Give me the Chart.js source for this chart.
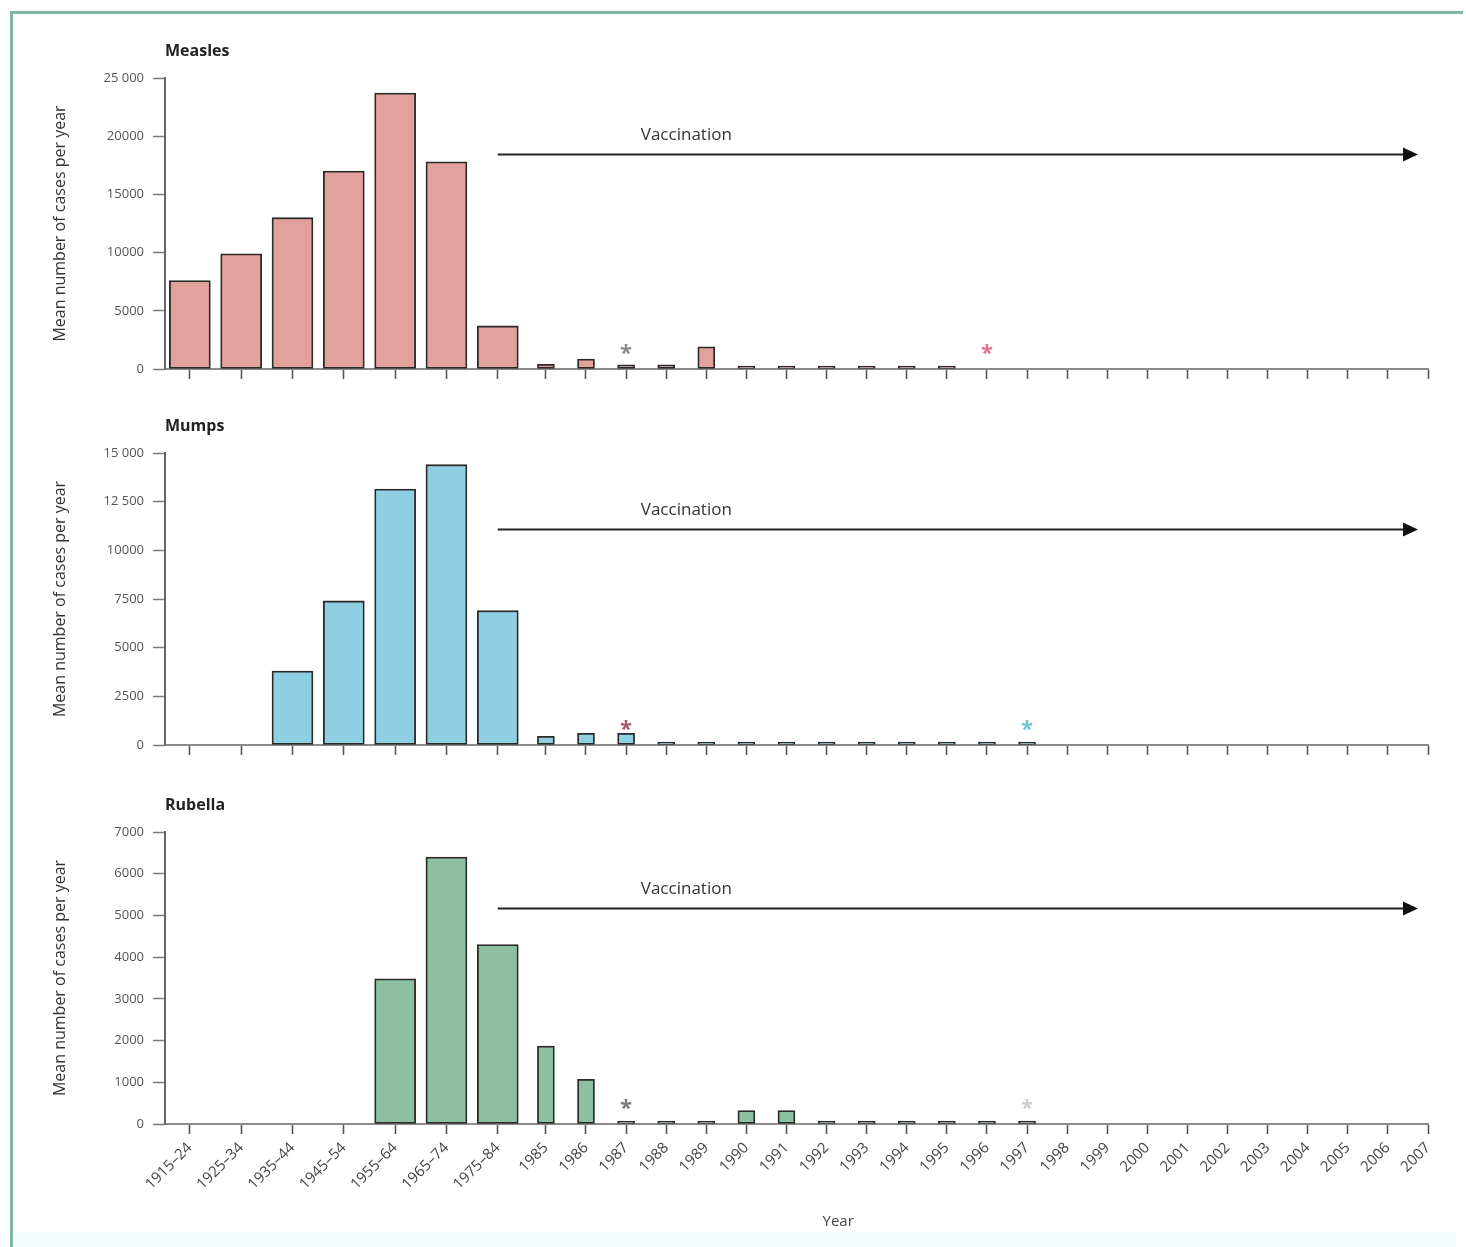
<!DOCTYPE html>
<html>
<head>
<meta charset="utf-8">
<title>Measles, mumps and rubella cases per year</title>
<script src="https://cdn.jsdelivr.net/npm/chart.js@4/dist/chart.umd.min.js"></script>
<style>
  html, body { margin: 0; padding: 0; background: #fff; }
  #page { position: relative; width: 1466px; height: 1247px; overflow: hidden; background: #fff; }
  #frame { position: absolute; left: 10px; top: 11px; right: 3px; bottom: -5px;
           border-top: 3px solid #80b6a8; border-left: 3px solid #80b6a8; }
  #foot { position: absolute; left: 13px; right: 10px; bottom: 0; height: 14px; background: #f3fbfc; }
  canvas { position: absolute; left: 0; }
</style>
</head>
<body>
<div id="page">
  <div id="foot"></div>
  <div id="frame"></div>
  <canvas id="measles" width="1466" height="374" style="top:20px"></canvas>
  <canvas id="mumps" width="1466" height="370" style="top:400px"></canvas>
  <canvas id="rubella" width="1466" height="467" style="top:780px"></canvas>
</div>
<script>
// ---- categories -------------------------------------------------------
const decadeLabels = ['1915–24', '1925–34', '1935–44', '1945–54', '1955–64', '1965–74', '1975–84'];
const yearLabels = ['1985', '1986', '1987', '1988', '1989', '1990', '1991', '1992', '1993', '1994',
  '1995', '1996', '1997', '1998', '1999', '2000', '2001', '2002', '2003', '2004', '2005', '2006', '2007'];

// ---- mean number of cases per year (null = no bar) ---------------------
const measlesDecades = [7600, 9900, 13000, 17000, 23700, 17800, 3700];
const measlesYears = [400, 850, 350, 350, 1900, 200, 200, 200, 200, 200, 200,
  null, null, null, null, null, null, null, null, null, null, null, null];

const mumpsDecades = [null, null, 3800, 7400, 13150, 14400, 6900];
const mumpsYears = [450, 600, 600, 150, 90, 90, 90, 90, 90, 90, 90, 90, 90,
  null, null, null, null, null, null, null, null, null, null];

const rubellaDecades = [null, null, null, null, 3480, 6400, 4300];
const rubellaYears = [1870, 1070, 50, 50, 50, 320, 320, 50, 50, 50, 50, 50, 50,
  null, null, null, null, null, null, null, null, null, null];

// ---- y-axis ticks -----------------------------------------------------
const measlesTickValues = [0, 5000, 10000, 15000, 20000, 25000];
const measlesTickLabels = ['0', '5000', '10000', '15000', '20000', '25 000'];
const mumpsTickValues = [0, 2500, 5000, 7500, 10000, 12500, 15000];
const mumpsTickLabels = ['0', '2500', '5000', '7500', '10000', '12 500', '15 000'];
const rubellaTickValues = [0, 1000, 2000, 3000, 4000, 5000, 6000, 7000];
const rubellaTickLabels = ['0', '1000', '2000', '3000', '4000', '5000', '6000', '7000'];

// ---- asterisk markers -------------------------------------------------
const measlesStars = [{ at: '1987', color: '#8a8a8a' }, { at: '1996', color: '#e0708c' }];
const mumpsStars = [{ at: '1987', color: '#a8586a' }, { at: '1997', color: '#6cc6d2' }];
const rubellaStars = [{ at: '1987', color: '#7a7a7a' }, { at: '1997', color: '#cfcfcf' }];

// ---- x layout: ten-year groups are wider than single years --------------
const DECADE_STEP = 1.28;
const YEAR_GAP = 1.2;
const decadePos = decadeLabels.map((_, i) => i * DECADE_STEP);
const yearStart = (decadeLabels.length - 1) * DECADE_STEP + YEAR_GAP;
const yearPos = yearLabels.map((_, k) => yearStart + k);
const allPos = decadePos.concat(yearPos);
const allLabels = decadeLabels.concat(yearLabels);
const X_MIN = -0.62;
const X_MAX = yearPos[yearPos.length - 1];
const posOf = label => allPos[allLabels.indexOf(label)];

const FONT = '"Open Sans", "Noto Sans", sans-serif';
Chart.defaults.font.family = FONT;
Chart.defaults.color = '#444';

// Panel title, vaccination arrow, asterisks and the shared "Year" label.
const decor = {
  id: 'decor',
  afterDatasetsDraw(chart, args, o) {
    const { ctx, chartArea: a, scales: { x } } = chart;
    ctx.save();
    ctx.textBaseline = 'middle';
    ctx.textAlign = 'left';
    ctx.fillStyle = '#222';
    ctx.font = 'bold 16px ' + FONT;
    ctx.fillText(o.title, a.left, a.top - 27);

    // vaccination arrow
    const ay = Math.round(a.bottom - 0.74 * (a.bottom - a.top)) + 0.5;
    const x0 = x.getPixelForValue(posOf('1975–84'));
    const x1 = x.getPixelForValue(posOf('2007')) - 10;
    ctx.strokeStyle = '#222';
    ctx.lineWidth = 2;
    ctx.beginPath();
    ctx.moveTo(x0, ay);
    ctx.lineTo(x1 - 12, ay);
    ctx.stroke();
    ctx.fillStyle = '#111';
    ctx.beginPath();
    ctx.moveTo(x1, ay);
    ctx.lineTo(x1 - 15, ay - 7);
    ctx.lineTo(x1 - 15, ay + 7);
    ctx.closePath();
    ctx.fill();
    ctx.fillStyle = '#333';
    ctx.font = '17px ' + FONT;
    ctx.fillText('Vaccination', x0 + 143, ay - 19);

    // asterisks
    ctx.font = 'bold 22px ' + FONT;
    ctx.textAlign = 'center';
    ctx.textBaseline = 'alphabetic';
    const m = ctx.measureText('*');
    const shift = (m.actualBoundingBoxAscent - m.actualBoundingBoxDescent) / 2;
    o.stars.forEach(s => {
      ctx.fillStyle = s.color;
      ctx.fillText('*', x.getPixelForValue(posOf(s.at)), a.bottom - 20 + shift);
    });

    if (o.xTitle) {
      ctx.fillStyle = '#444';
      ctx.font = '15px ' + FONT;
      ctx.textAlign = 'center';
      ctx.textBaseline = 'middle';
      ctx.fillText(o.xTitle, a.left + 0.533 * (a.right - a.left), a.bottom + 98);
    }
    ctx.restore();
  }
};

function makePanel(id, cfg) {
  const barStyle = {
    backgroundColor: cfg.fill,
    borderColor: '#2a2a2a',
    borderWidth: 1.8,
    borderSkipped: false,
    grouped: false
  };
  new Chart(document.getElementById(id), {
    type: 'bar',
    data: {
      datasets: [
        Object.assign({ data: cfg.decades.map((v, i) => ({ x: decadePos[i], y: v })), barThickness: 41 }, barStyle),
        Object.assign({ data: cfg.years.map((v, i) => ({ x: yearPos[i], y: v })), barThickness: 17, minBarLength: 3 }, barStyle)
      ]
    },
    options: {
      responsive: false,
      animation: false,
      layout: { padding: { left: 48, right: 38, top: cfg.padTop, bottom: 0 } },
      plugins: {
        legend: { display: false },
        tooltip: { enabled: false },
        decor: { title: cfg.title, stars: cfg.stars, xTitle: cfg.xTitle }
      },
      scales: {
        x: {
          type: 'linear',
          min: X_MIN,
          max: X_MAX,
          offset: false,
          afterBuildTicks: s => { s.ticks = allPos.map(v => ({ value: v })); },
          afterFit: s => { s.height = cfg.xHeight; },
          grid: { offset: false, drawOnChartArea: false, drawTicks: true, tickLength: 10, tickColor: '#555', tickWidth: 1.6 },
          border: { display: true, color: '#8c8c8c', width: 2 },
          ticks: {
            display: cfg.showLabels,
            autoSkip: false,
            minRotation: 45,
            maxRotation: 45,
            padding: 5,
            color: '#444',
            font: { size: 15 },
            callback: (v, i) => allLabels[i]
          }
        },
        y: {
          min: 0,
          max: cfg.tickValues[cfg.tickValues.length - 1],
          afterBuildTicks: s => { s.ticks = cfg.tickValues.map(v => ({ value: v })); },
          afterFit: s => { s.width = 117; },
          grid: { drawOnChartArea: false, tickLength: 12, tickColor: '#7a7a7a', tickWidth: 1.5 },
          border: { display: true, color: '#666', width: 2 },
          ticks: { padding: 9, color: '#555', font: { size: 13 }, callback: (v, i) => cfg.tickLabels[i] },
          title: { display: true, text: 'Mean number of cases per year', color: '#333', font: { size: 16 }, padding: { top: 3, bottom: 3 } }
        }
      }
    },
    plugins: [decor]
  });
}

makePanel('measles', {
  title: 'Measles', fill: '#e3a19c', decades: measlesDecades, years: measlesYears,
  tickValues: measlesTickValues, tickLabels: measlesTickLabels, stars: measlesStars,
  padTop: 58, xHeight: 25, showLabels: false
});
makePanel('mumps', {
  title: 'Mumps', fill: '#8ecfe2', decades: mumpsDecades, years: mumpsYears,
  tickValues: mumpsTickValues, tickLabels: mumpsTickLabels, stars: mumpsStars,
  padTop: 53, xHeight: 25, showLabels: false
});
makePanel('rubella', {
  title: 'Rubella', fill: '#8dc0a2', decades: rubellaDecades, years: rubellaYears,
  tickValues: rubellaTickValues, tickLabels: rubellaTickLabels, stars: rubellaStars,
  padTop: 52, xHeight: 123, showLabels: true, xTitle: 'Year'
});
</script>
</body>
</html>
